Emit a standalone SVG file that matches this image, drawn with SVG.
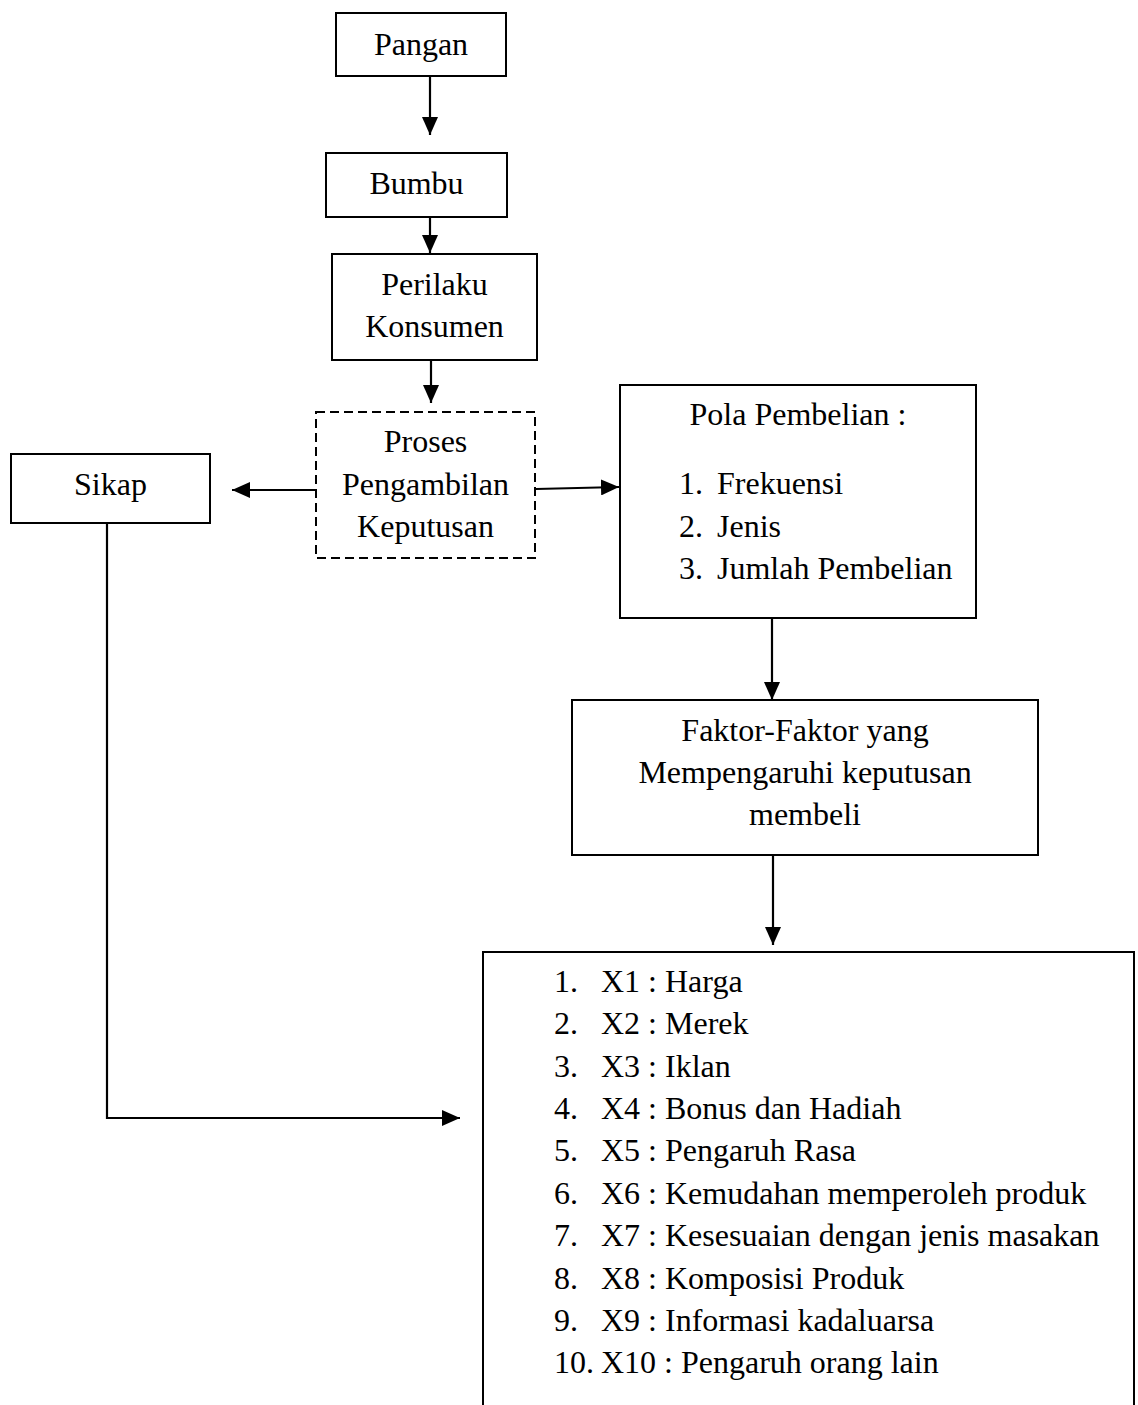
<svg xmlns="http://www.w3.org/2000/svg" width="1138" height="1405" viewBox="0 0 1138 1405">
<style>
.box{fill:#fff;stroke:#000;stroke-width:2}
.dash{fill:#fff;stroke:#000;stroke-width:2;stroke-dasharray:9 5}
.t{font-family:"Liberation Serif","Times New Roman",serif;font-size:32px;fill:#000}
.c{text-anchor:middle}
.ln{fill:none;stroke:#000;stroke-width:2.2;marker-end:url(#ah)}
</style>
<defs>
<marker id="ah" markerUnits="userSpaceOnUse" markerWidth="18" markerHeight="16" refX="18" refY="8" orient="auto">
<path d="M0,0 L18,8 L0,16 z" fill="#000"/>
</marker>
</defs>
<rect width="1138" height="1405" fill="#fff"/>
<g id="connectors">
<line class="ln" x1="430" y1="76" x2="430" y2="135"/>
<line class="ln" x1="430" y1="217" x2="430" y2="253"/>
<line class="ln" x1="431" y1="360" x2="431" y2="403"/>
<line class="ln" x1="316" y1="490" x2="232" y2="490"/>
<line class="ln" x1="536" y1="489" x2="619" y2="487"/>
<line class="ln" x1="772" y1="618" x2="772" y2="700"/>
<line class="ln" x1="773" y1="855" x2="773" y2="945"/>
<polyline class="ln" points="107,523 107,1118 460,1118"/>
</g>
<g id="pangan">
<rect class="box" x="336" y="13" width="170" height="63"/>
<text class="t c" x="421" y="55">Pangan</text>
</g>
<g id="bumbu">
<rect class="box" x="326" y="153" width="181" height="64"/>
<text class="t c" x="416.5" y="194">Bumbu</text>
</g>
<g id="perilaku">
<rect class="box" x="332" y="254" width="205" height="106"/>
<text class="t c" x="434.5" y="295">Perilaku</text>
<text class="t c" x="434.5" y="337">Konsumen</text>
</g>
<g id="proses">
<rect class="dash" x="316" y="412" width="219" height="146"/>
<text class="t c" x="425.5" y="452">Proses</text>
<text class="t c" x="425.5" y="495">Pengambilan</text>
<text class="t c" x="425.5" y="537">Keputusan</text>
</g>
<g id="sikap">
<rect class="box" x="11" y="454" width="199" height="69"/>
<text class="t c" x="110.5" y="495">Sikap</text>
</g>
<g id="pola">
<rect class="box" x="620" y="385" width="356" height="233"/>
<text class="t c" x="798" y="425">Pola Pembelian :</text>
<text class="t" x="679" y="494">1.</text><text class="t" x="717" y="494">Frekuensi</text>
<text class="t" x="679" y="537">2.</text><text class="t" x="717" y="537">Jenis</text>
<text class="t" x="679" y="579">3.</text><text class="t" x="717" y="579">Jumlah Pembelian</text>
</g>
<g id="faktor">
<rect class="box" x="572" y="700" width="466" height="155"/>
<text class="t c" x="805" y="741">Faktor-Faktor yang</text>
<text class="t c" x="805" y="783">Mempengaruhi keputusan</text>
<text class="t c" x="805" y="825">membeli</text>
</g>
<g id="variabel">
<rect class="box" x="483" y="952" width="651" height="480"/>
<text class="t" x="554" y="992">1.</text><text class="t" x="601" y="992">X1 : Harga</text>
<text class="t" x="554" y="1034">2.</text><text class="t" x="601" y="1034">X2 : Merek</text>
<text class="t" x="554" y="1077">3.</text><text class="t" x="601" y="1077">X3 : Iklan</text>
<text class="t" x="554" y="1119">4.</text><text class="t" x="601" y="1119">X4 : Bonus dan Hadiah</text>
<text class="t" x="554" y="1161">5.</text><text class="t" x="601" y="1161">X5 : Pengaruh Rasa</text>
<text class="t" x="554" y="1204">6.</text><text class="t" x="601" y="1204">X6 : Kemudahan memperoleh produk</text>
<text class="t" x="554" y="1246">7.</text><text class="t" x="601" y="1246">X7 : Kesesuaian dengan jenis masakan</text>
<text class="t" x="554" y="1289">8.</text><text class="t" x="601" y="1289">X8 : Komposisi Produk</text>
<text class="t" x="554" y="1331">9.</text><text class="t" x="601" y="1331">X9 : Informasi kadaluarsa</text>
<text class="t" x="554" y="1373">10.</text><text class="t" x="601" y="1373">X10 : Pengaruh orang lain</text>
</g>
</svg>
